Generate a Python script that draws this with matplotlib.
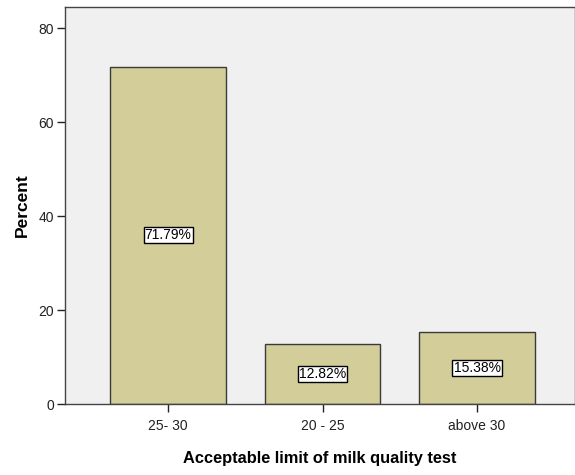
import matplotlib
matplotlib.use("Agg")
import matplotlib.pyplot as plt
from matplotlib import font_manager

categories = ["25- 30", "20 - 25", "above 30"]
percents = [71.79, 12.82, 15.38]
yticks = [0, 20, 40, 60, 80]

names = {f.name for f in font_manager.fontManager.ttflist}
label_family = "Liberation Sans Narrow" if "Liberation Sans Narrow" in names else "Liberation Sans"

fig = plt.figure(figsize=(5.75, 4.75), dpi=100)
ax = fig.add_axes([65 / 575, (475 - 404) / 475, (575 - 65) / 575, 397 / 475])
ax.set_facecolor("#f0f0f0")

x = list(range(len(categories)))
ax.bar(x, percents, width=0.75, color="#d2cd99", edgecolor="#3a3a3a", linewidth=1.0, zorder=2)

for xi, v in zip(x, percents):
    ax.text(xi, v / 2, f"{v:.2f}%", ha="center", va="center", fontsize=10,
            family="Liberation Sans", zorder=3,
            bbox=dict(boxstyle="square,pad=0.08", facecolor="white", edgecolor="black", linewidth=1.0))

ax.set_xlim(-0.667, 2.634)
ax.set_ylim(0, 84.5)
ax.set_xticks(x)
ax.set_xticklabels(categories, family="Liberation Sans", fontsize=10)
ax.set_yticks(yticks)
ax.set_yticklabels([str(t) for t in yticks], family="Liberation Sans", fontsize=10)
ax.tick_params(axis="both", direction="out", length=6, width=1, colors="#222222")
ax.tick_params(axis="x", pad=5)
ax.tick_params(axis="y", pad=2)

for side in ["left", "bottom", "top", "right"]:
    ax.spines[side].set_color("#444444")
    ax.spines[side].set_linewidth(1.0)

ax.set_ylabel("Percent", family=label_family, fontweight="bold", fontsize=12.5, labelpad=6)
ax.set_xlabel("Acceptable limit of milk quality test", family=label_family, fontweight="bold",
              fontsize=11.8, labelpad=13)

fig.savefig("out.png", dpi=100, facecolor="white")
